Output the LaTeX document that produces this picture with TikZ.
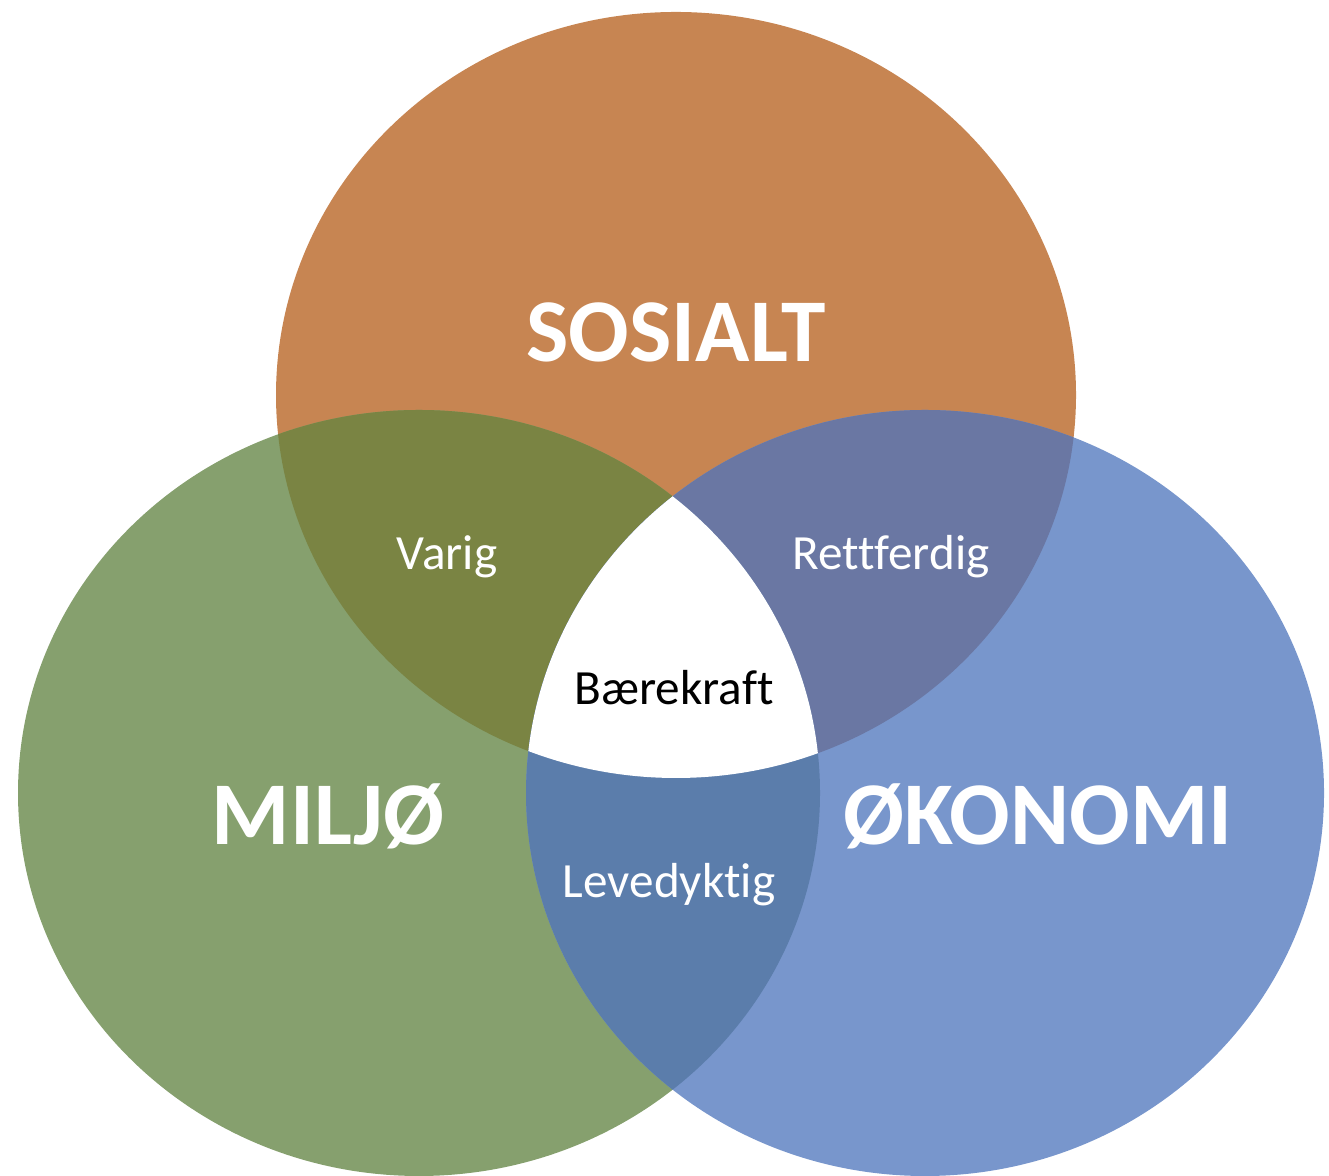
\documentclass[tikz,border=0pt]{standalone}
\usepackage{fontspec}
\setmainfont[Ligatures={NoCommon}]{Carlito}
\usepackage{tikz}
\usetikzlibrary{positioning}
\definecolor{sosialbox}{HTML}{C78552}
\definecolor{miljobox}{HTML}{86A06E}
\definecolor{okonomibox}{HTML}{7896CC}
\definecolor{varigbox}{HTML}{7A8443}
\definecolor{rettbox}{HTML}{6A77A3}
\definecolor{levebox}{HTML}{5B7DAB}
\newcommand{\sosialshape}{(6.76,7.81) ellipse [x radius=4.00, y radius=3.83]}
\newcommand{\miljoshape}{(4.19,3.83) ellipse [x radius=4.01, y radius=3.83]}
\newcommand{\okonomishape}{(9.25,3.83) ellipse [x radius=3.99, y radius=3.83]}
\tikzset{
  biglabel/.style={font=\fontsize{25.5}{30}\selectfont\bfseries, text=white, anchor=base, inner sep=0pt},
  smalllabel/.style={font=\fontsize{14}{17}\selectfont, text=white, anchor=base, inner sep=0pt}
}
\begin{document}
\begin{tikzpicture}
\useasboundingbox (0,0) rectangle (13.29,11.76);
% the three circles
\fill[sosialbox] \sosialshape;
\fill[miljobox] \miljoshape;
\fill[okonomibox] \okonomishape;
% pairwise overlaps
\begin{scope}
  \clip \miljoshape;
  \fill[varigbox] \sosialshape;
\end{scope}
\begin{scope}
  \clip \okonomishape;
  \fill[rettbox] \sosialshape;
\end{scope}
\begin{scope}
  \clip \miljoshape;
  \fill[levebox] \okonomishape;
\end{scope}
% centre
\begin{scope}
  \clip \miljoshape;
  \clip \okonomishape;
  \fill[white] \sosialshape;
\end{scope}

\node[biglabel] (sosialt) at (6.76,8.14) {SOSIALT};
\node[biglabel] (miljo) at (3.28,3.31) {MILJØ};
\node[biglabel] (okonomi) at (10.38,3.31) {ØKONOMI};
\node[smalllabel] (varig) at (4.47,6.06) {Varig};
\node[smalllabel] (rettferdig) at (8.91,6.06) {Rettferdig};
\node[smalllabel, text=black] (baerekraft) at (6.74,4.71) {Bærekraft};
\node[smalllabel] (levedyktig) at (6.69,2.78) {Levedyktig};
\end{tikzpicture}
\end{document}
